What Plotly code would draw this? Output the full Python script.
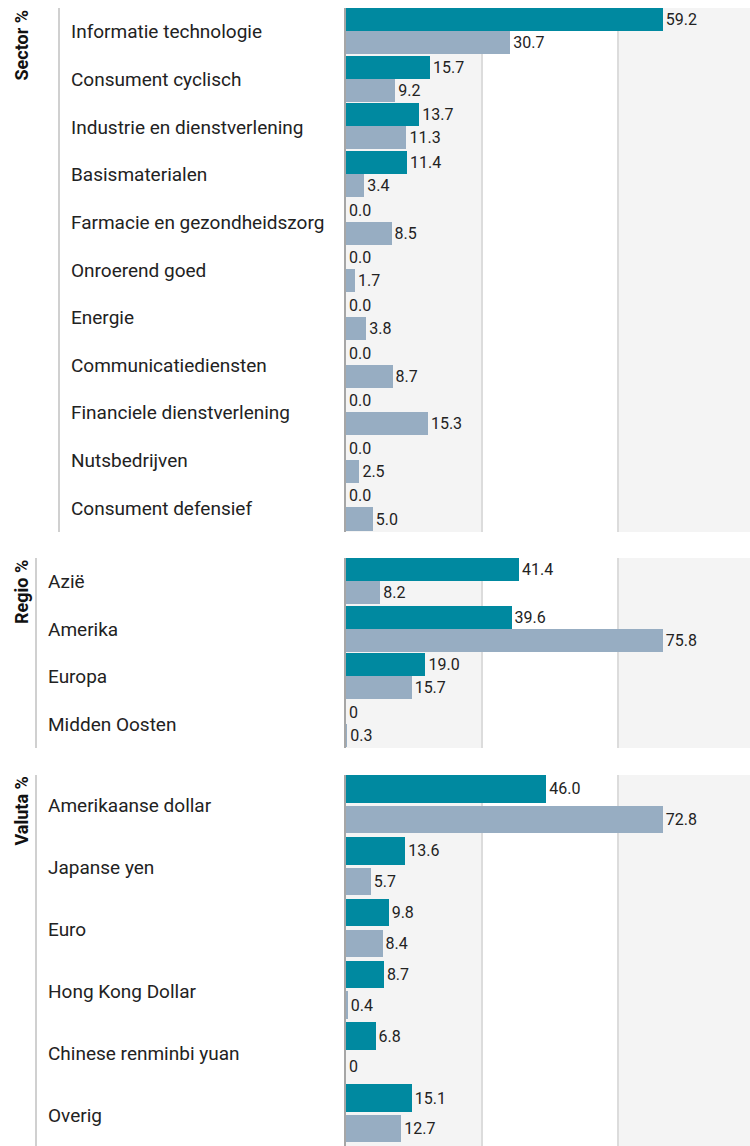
import plotly.graph_objects as go

# ---------------- data ----------------
sector_cats = ["Informatie technologie", "Consument cyclisch", "Industrie en dienstverlening",
               "Basismaterialen", "Farmacie en gezondheidszorg", "Onroerend goed", "Energie",
               "Communicatiediensten", "Financiele dienstverlening", "Nutsbedrijven",
               "Consument defensief"]
sector_fund = [59.2, 15.7, 13.7, 11.4, 0.0, 0.0, 0.0, 0.0, 0.0, 0.0, 0.0]
sector_bench = [30.7, 9.2, 11.3, 3.4, 8.5, 1.7, 3.8, 8.7, 15.3, 2.5, 5.0]
sector_fund_text = ["59.2", "15.7", "13.7", "11.4", "0.0", "0.0", "0.0", "0.0", "0.0", "0.0", "0.0"]
sector_bench_text = ["30.7", "9.2", "11.3", "3.4", "8.5", "1.7", "3.8", "8.7", "15.3", "2.5", "5.0"]

regio_cats = ["Azië", "Amerika", "Europa", "Midden Oosten"]
regio_fund = [41.4, 39.6, 19.0, 0.0]
regio_bench = [8.2, 75.8, 15.7, 0.3]
regio_fund_text = ["41.4", "39.6", "19.0", "0"]
regio_bench_text = ["8.2", "75.8", "15.7", "0.3"]

valuta_cats = ["Amerikaanse dollar", "Japanse yen", "Euro", "Hong Kong Dollar",
               "Chinese renminbi yuan", "Overig"]
valuta_fund = [46.0, 13.6, 9.8, 8.7, 6.8, 15.1]
valuta_bench = [72.8, 5.7, 8.4, 0.4, 0.0, 12.7]
valuta_fund_text = ["46.0", "13.6", "9.8", "8.7", "6.8", "15.1"]
valuta_bench_text = ["72.8", "5.7", "8.4", "0.4", "0", "12.7"]

titles = ["Sector %", "Regio %", "Valuta %"]

# ---------------- style ----------------
W, H = 750, 1146
FONT = "Roboto"
TEAL = "#0089a0"
GREY = "#97adc2"
BAND = "#f4f4f4"
G1, G2 = 0.3366, 0.6733  # band / gridline split (fraction of plot width)

panels = [
    dict(cats=sector_cats, fund=sector_fund, bench=sector_bench, ft=sector_fund_text,
         bt=sector_bench_text, title=titles[0], top=8, bottom=532, sep=59, lab=69,
         tw=0.485, bo=-0.015, bw=0.485),
    dict(cats=regio_cats, fund=regio_fund, bench=regio_bench, ft=regio_fund_text,
         bt=regio_bench_text, title=titles[1], top=558, bottom=748, sep=36, lab=46,
         tw=0.485, bo=-0.015, bw=0.485),
    dict(cats=valuta_cats, fund=valuta_fund, bench=valuta_bench, ft=valuta_fund_text,
         bt=valuta_bench_text, title=titles[2], top=775, bottom=1146, sep=36, lab=46,
         tw=0.45, bo=0.0, bw=0.44),
]

x0_px = 346
fig = go.Figure()
shapes, annotations = [], []
layout_axes = {}

for k, p in enumerate(panels):
    sfx = "" if k == 0 else str(k + 1)
    xa, ya = "x" + sfx, "y" + sfx
    n = len(p["cats"])
    common = dict(orientation="h", xaxis=xa, yaxis=ya, textposition="outside",
                  cliponaxis=False, showlegend=False, hoverinfo="skip",
                  textfont=dict(family=FONT, size=16, color="#222222"),
                  marker_line_width=0)
    fig.add_trace(go.Bar(y=p["cats"], x=p["fund"], text=p["ft"], marker_color=TEAL,
                         offset=-0.5, width=p["tw"], **common))
    fig.add_trace(go.Bar(y=p["cats"], x=p["bench"], text=p["bt"], marker_color=GREY,
                         offset=p["bo"], width=p["bw"], **common))

    xmax = max(p["fund"] + p["bench"]) * 1.275
    dom_y = [1 - p["bottom"] / H, 1 - p["top"] / H]
    layout_axes["xaxis" + sfx] = dict(domain=[x0_px / W, 1], range=[0, xmax], anchor=ya,
                                      showgrid=False, zeroline=False, showticklabels=False,
                                      fixedrange=True)
    layout_axes["yaxis" + sfx] = dict(domain=dom_y, anchor=xa, type="category",
                                      categoryarray=p["cats"], range=[n - 0.5, -0.5],
                                      showticklabels=False, showgrid=False, zeroline=False,
                                      showline=True, linecolor="#a6a6a6", linewidth=2,
                                      ticks="", fixedrange=True)

    xd, yd = xa + " domain", ya + " domain"
    # background bands
    for a, b in [(0, G1), (G2, 1)]:
        shapes.append(dict(type="rect", xref=xd, yref=yd, x0=a, x1=b, y0=0, y1=1,
                           fillcolor=BAND, line_width=0, layer="below"))
    for g in (G1, G2):
        shapes.append(dict(type="line", xref=xd, yref=yd, x0=g, x1=g, y0=0, y1=1,
                           line=dict(color="#dcdcdc", width=2), layer="below"))
    # label column separator
    shapes.append(dict(type="line", xref="paper", yref=yd, x0=p["sep"] / W, x1=p["sep"] / W,
                       y0=0, y1=1, line=dict(color="#d0d0d0", width=2)))
    # section title
    annotations.append(dict(text="<b>" + p["title"] + "</b>", xref="paper", yref=yd,
                            x=21 / W, y=1, xanchor="center", yanchor="top", textangle=-90,
                            showarrow=False, font=dict(family=FONT, size=18, color="#111111")))
    # category labels
    for c in p["cats"]:
        annotations.append(dict(text=c, xref="paper", yref=ya, x=p["lab"] / W, y=c,
                                xanchor="left", yanchor="middle", showarrow=False,
                                font=dict(family=FONT, size=19, color="#222222")))

fig.update_layout(width=W, height=H, margin=dict(l=0, r=0, t=0, b=0),
                  paper_bgcolor="white", plot_bgcolor="white",
                  shapes=shapes, annotations=annotations, bargap=0, **layout_axes)

fig.write_html("out.html", config={"displayModeBar": False, "staticPlot": True},
               post_script="document.body.style.margin='0';document.body.style.overflow='hidden';")
